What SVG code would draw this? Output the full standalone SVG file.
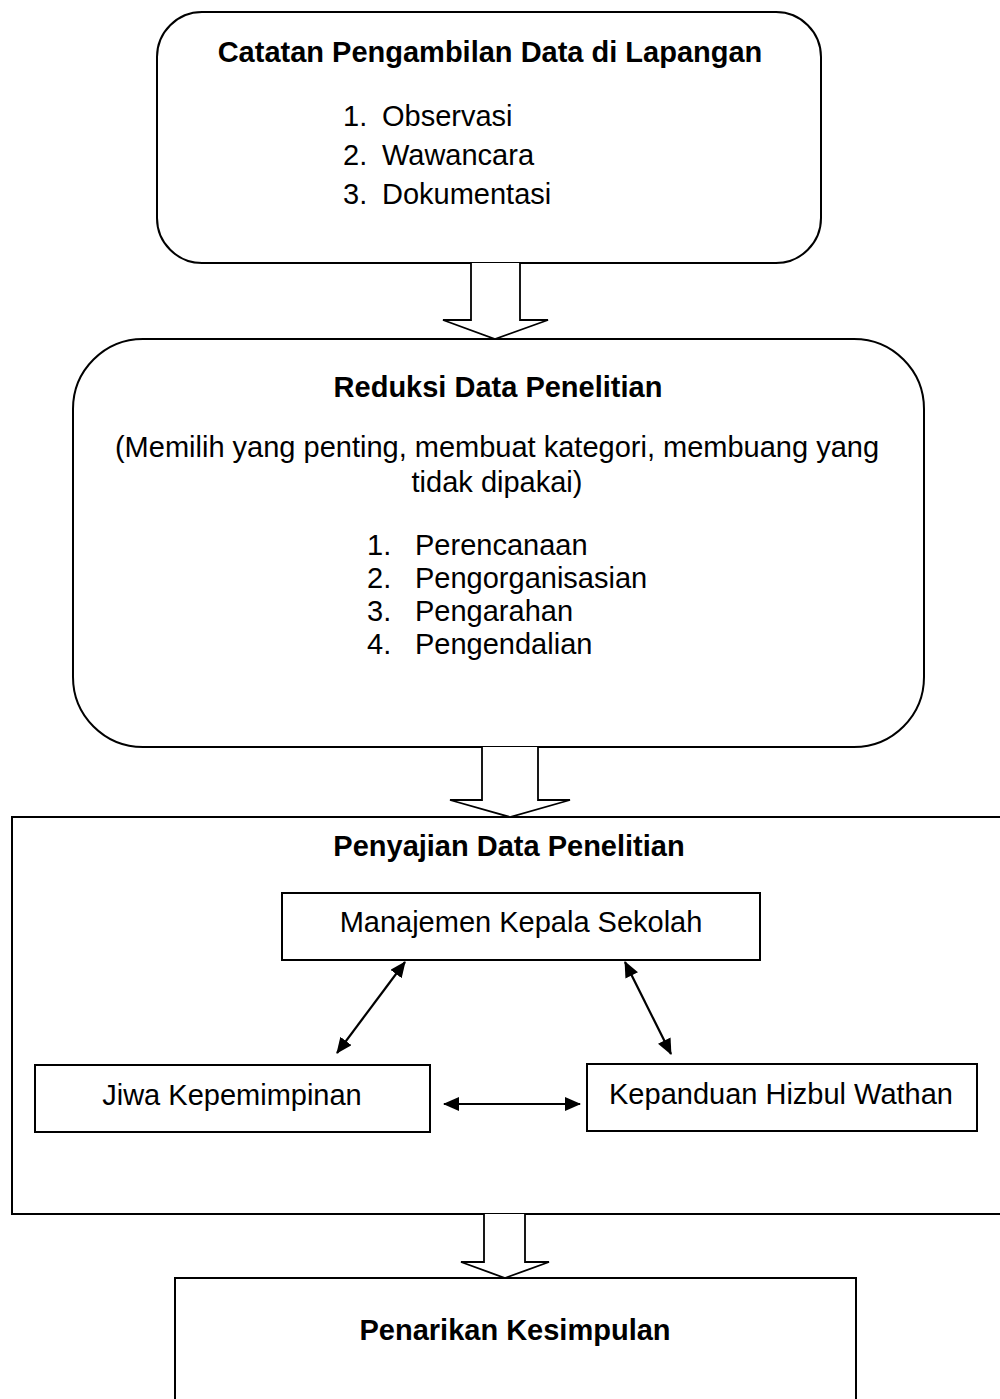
<svg xmlns="http://www.w3.org/2000/svg" width="1000" height="1399" viewBox="0 0 1000 1399">
<style>
.box{fill:#fff;stroke:#000;stroke-width:2}
.t{font-family:"Liberation Sans",Arial,sans-serif;font-size:29px;fill:#000}
.b{font-weight:bold}
.c{text-anchor:middle}
.con{stroke:#000;stroke-width:2.2;fill:none}
.big{fill:#fff;stroke:#000;stroke-width:1.8}
</style>
<defs>
<marker id="ah" viewBox="0 0 16 14" refX="15" refY="7" markerWidth="16" markerHeight="14" orient="auto-start-reverse" markerUnits="userSpaceOnUse">
<path d="M0,0 L16,7 L0,14 z" fill="#000"/>
</marker>
</defs>
<rect width="1000" height="1399" fill="#fff"/>
<g id="node-catatan">
<rect class="box" x="157" y="12" width="664" height="251" rx="45" ry="45"/>
<text class="t b c" x="490" y="62">Catatan Pengambilan Data di Lapangan</text>
<text class="t" x="343" y="126">1.</text><text class="t" x="382" y="126">Observasi</text>
<text class="t" x="343" y="165">2.</text><text class="t" x="382" y="165">Wawancara</text>
<text class="t" x="343" y="204">3.</text><text class="t" x="382" y="204">Dokumentasi</text>
</g>
<g id="node-reduksi">
<rect class="box" x="73" y="339" width="851" height="408" rx="70" ry="70"/>
<text class="t b c" x="498" y="397">Reduksi Data Penelitian</text>
<text class="t c" x="497" y="457">(Memilih yang penting, membuat kategori, membuang yang</text>
<text class="t c" x="497" y="492">tidak dipakai)</text>
<text class="t" x="367" y="555">1.</text><text class="t" x="415" y="555">Perencanaan</text>
<text class="t" x="367" y="588">2.</text><text class="t" x="415" y="588">Pengorganisasian</text>
<text class="t" x="367" y="621">3.</text><text class="t" x="415" y="621">Pengarahan</text>
<text class="t" x="367" y="654">4.</text><text class="t" x="415" y="654">Pengendalian</text>
</g>
<g id="node-penyajian">
<rect class="box" x="12" y="817" width="1000" height="397"/>
<text class="t b c" x="509" y="856">Penyajian Data Penelitian</text>
</g>
<g id="node-manajemen">
<rect class="box" x="282" y="893" width="478" height="67"/>
<text class="t c" x="521" y="932">Manajemen Kepala Sekolah</text>
</g>
<g id="node-jiwa">
<rect class="box" x="35" y="1065" width="395" height="67"/>
<text class="t c" x="232" y="1105">Jiwa Kepemimpinan</text>
</g>
<g id="node-kepanduan">
<rect class="box" x="587" y="1064" width="390" height="67"/>
<text class="t c" x="781" y="1104">Kepanduan Hizbul Wathan</text>
</g>
<g id="node-penarikan">
<rect class="box" x="175" y="1278" width="681" height="140"/>
<text class="t b c" x="515" y="1340">Penarikan Kesimpulan</text>
</g>
<g id="connectors">
<path class="big" d="M471,263 V320 H443 L495,339 L548,320 H520 V263"/>
<path class="big" d="M482,747 V800 H450 L510,817 L570,800 H538 V747"/>
<path class="big" d="M484,1214 V1262 H461 L505,1278 L549,1262 H525 V1214"/>
<line class="con" x1="405" y1="962" x2="337" y2="1053" marker-start="url(#ah)" marker-end="url(#ah)"/>
<line class="con" x1="625" y1="962" x2="671" y2="1054" marker-start="url(#ah)" marker-end="url(#ah)"/>
<line class="con" x1="444" y1="1104" x2="580" y2="1104" marker-start="url(#ah)" marker-end="url(#ah)"/>
</g>
</svg>
